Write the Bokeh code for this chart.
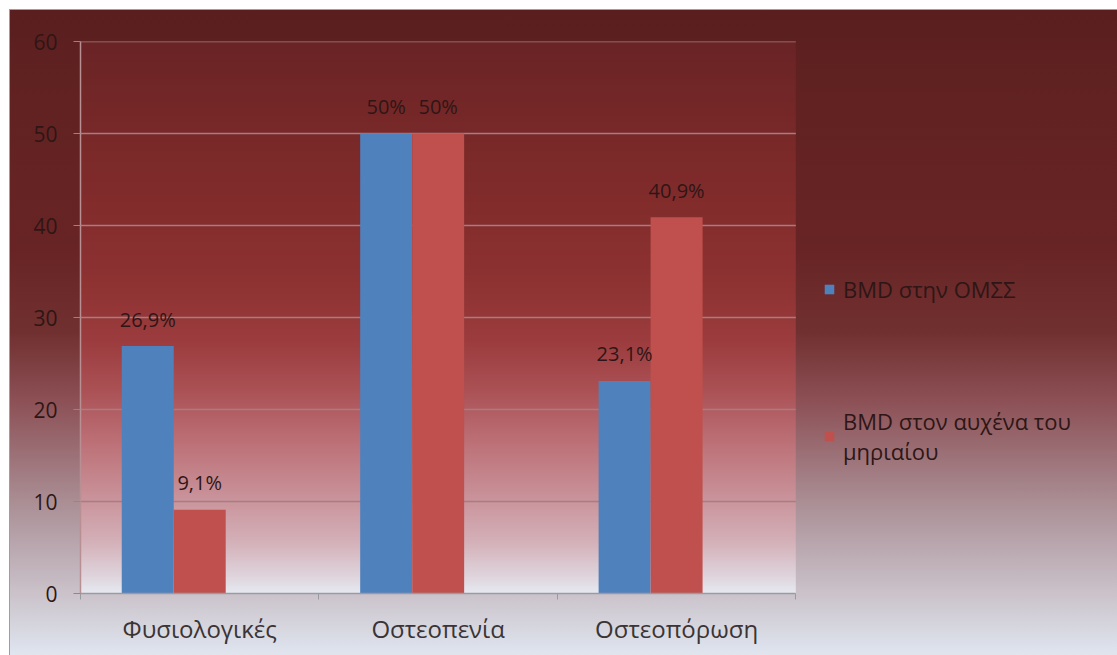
import numpy as np
from bokeh.plotting import figure
from bokeh.layouts import column
from bokeh.models import FixedTicker, Legend, LegendItem, Range1d
from bokeh.core.properties import value
from bokeh.embed import file_html
from bokeh.resources import INLINE

# ---- data -------------------------------------------------------------
categories = ["Φυσιολογικές", "Οστεοπενία", "Οστεοπόρωση"]
series_names = ["BMD στην ΟΜΣΣ", "BMD στον αυχένα του\nμηριαίου"]
bmd_omss = [26.9, 50.0, 23.1]          # BMD at lumbar spine (%)
bmd_femoral_neck = [9.1, 50.0, 40.9]   # BMD at femoral neck (%)
y_ticks = [0, 10, 20, 30, 40, 50, 60]

# ---- style ------------------------------------------------------------
FONT = "Open Sans"
TEXT_DARK = "#2e1616"
BLUE = "#4f81bd"
RED = "#c0504d"
GRID = "#a87c80"
BAR_W = 0.218            # width of one bar in category units

W, H = 1108, 646
LEFT, TOP, BOTTOM = 70, 31, 62
PLOT_W = 716             # pixel width of the bar area
FRAME_W, FRAME_H = W - LEFT, H - TOP - BOTTOM

n_cat = len(categories)
# the frame also spans the legend column on the right; bars live in [0, n_cat]
x_end = n_cat * FRAME_W / PLOT_W


def pct_label(v):
    return f"{v:g}".replace(".", ",") + "%"


p = figure(frame_width=FRAME_W, frame_height=FRAME_H,
           x_range=Range1d(0, x_end), y_range=Range1d(y_ticks[0], y_ticks[-1]),
           output_backend="svg", toolbar_location=None,
           min_border_left=LEFT, min_border_top=TOP,
           min_border_right=0, min_border_bottom=BOTTOM)
p.background_fill_alpha = 0
p.border_fill_alpha = 0
p.outline_line_color = None
p.grid.grid_line_color = None

# plot-area backdrop: vertical red-to-white fade
frame_top, frame_bottom = 40.0, 593.0
stops_y = [40, 120, 200, 280, 340, 390, 440, 490, 540, 575, 593]
stops_c = ["#6a2426", "#772828", "#822c2c", "#8e3232", "#9c3c3e", "#ab5256",
           "#bc7076", "#c88e96", "#d4b0b8", "#dfd4dc", "#e7eaf2"]
rgb = np.array([[int(c[i:i + 2], 16) for i in (1, 3, 5)] for c in stops_c], dtype=float)
n_rows = FRAME_H
row_y = frame_bottom - (np.arange(n_rows) + 0.5) / n_rows * (frame_bottom - frame_top)
img = np.zeros((n_rows, 1), dtype=np.uint32)
view = img.view(dtype=np.uint8).reshape((n_rows, 1, 4))
for k in range(3):
    view[:, 0, k] = np.interp(row_y, stops_y, rgb[:, k]).astype(np.uint8)
view[:, 0, 3] = 255
p.image_rgba(image=[img], x=0, y=y_ticks[0], dw=n_cat,
             dh=y_ticks[-1] - y_ticks[0])

# horizontal gridlines across the bar area only
grid_y = y_ticks[1:]
p.segment(x0=[0] * len(grid_y), x1=[n_cat] * len(grid_y), y0=grid_y, y1=grid_y,
          line_color=GRID, line_width=1.5)

# ---- axes -------------------------------------------------------------
yaxis = p.yaxis[0]
yaxis.ticker = FixedTicker(ticks=y_ticks)
yaxis.axis_line_color = "#b89094"
yaxis.axis_line_width = 1.5
yaxis.major_tick_line_color = GRID
yaxis.major_tick_out = 7
yaxis.major_tick_in = 0
yaxis.minor_tick_line_color = None
yaxis.major_label_standoff = 16
yaxis.major_label_text_font = FONT
yaxis.major_label_text_font_size = "21px"
yaxis.major_label_text_color = TEXT_DARK

centers = [i + 0.5 for i in range(n_cat)]
bounds = list(range(n_cat + 1))
xaxis = p.xaxis[0]
xaxis.bounds = (0, n_cat)
xaxis.ticker = FixedTicker(ticks=centers, minor_ticks=bounds)
xaxis.major_label_overrides = {c: name for c, name in zip(centers, categories)}
xaxis.axis_line_color = "#9a9aa2"
xaxis.axis_line_width = 1.5
xaxis.major_tick_line_color = None
xaxis.major_tick_out = 0
xaxis.major_tick_in = 0
xaxis.minor_tick_line_color = "#9a9aa2"
xaxis.minor_tick_out = 6
xaxis.minor_tick_in = 0
xaxis.major_label_standoff = 12
xaxis.major_label_text_font = FONT
xaxis.major_label_text_font_size = "24px"
xaxis.major_label_text_color = "#3a3434"

# ---- bars -------------------------------------------------------------
x_blue = [c - BAR_W for c in centers]
x_red = centers
r_blue = p.vbar(x=x_blue, top=bmd_omss, width=BAR_W, bottom=0,
                fill_color=BLUE, line_color=None)
r_red = p.vbar(x=x_red, top=bmd_femoral_neck, width=BAR_W, bottom=0,
               fill_color=RED, line_color=None)

for xs, vals in ((x_blue, bmd_omss), (x_red, bmd_femoral_neck)):
    p.text(x=xs, y=vals, text=[pct_label(v) for v in vals],
           text_align="center", text_baseline="middle", y_offset=-27,
           text_font=value(FONT), text_font_size="20px", text_color=TEXT_DARK)

# ---- legend (right of the bar area) -----------------------------------
legend = Legend(items=[LegendItem(label=series_names[0], renderers=[r_blue]),
                       LegendItem(label=series_names[1], renderers=[r_red])],
                location=(PLOT_W + 27, 127), orientation="vertical",
                background_fill_alpha=0, border_line_color=None,
                padding=0, margin=0, spacing=102,
                glyph_width=12, glyph_height=12, label_standoff=8,
                label_text_font=FONT, label_text_font_size="22px",
                label_text_color=TEXT_DARK)
p.add_layout(legend)

# chart panel with its own red-to-white background
chart = column(p, width=W, height=H, margin=(9, 0, 0, 9), styles={
    "background": ("linear-gradient(to bottom, #5a1e1e 0%, #622222 14%, "
                   "#682424 37%, #713030 50%, #8c5055 60.5%, #9a6e74 68.3%, "
                   "#a98d93 76%, #bba9b1 83.7%, #cdc6ce 91.5%, #dde2ec 99%, #e0e5ee 100%)"),
    "border-top": "1px solid #a89a9c",
    "border-left": "1px solid #a89a9c",
})

open("out.html", "w").write(file_html(chart, INLINE))
